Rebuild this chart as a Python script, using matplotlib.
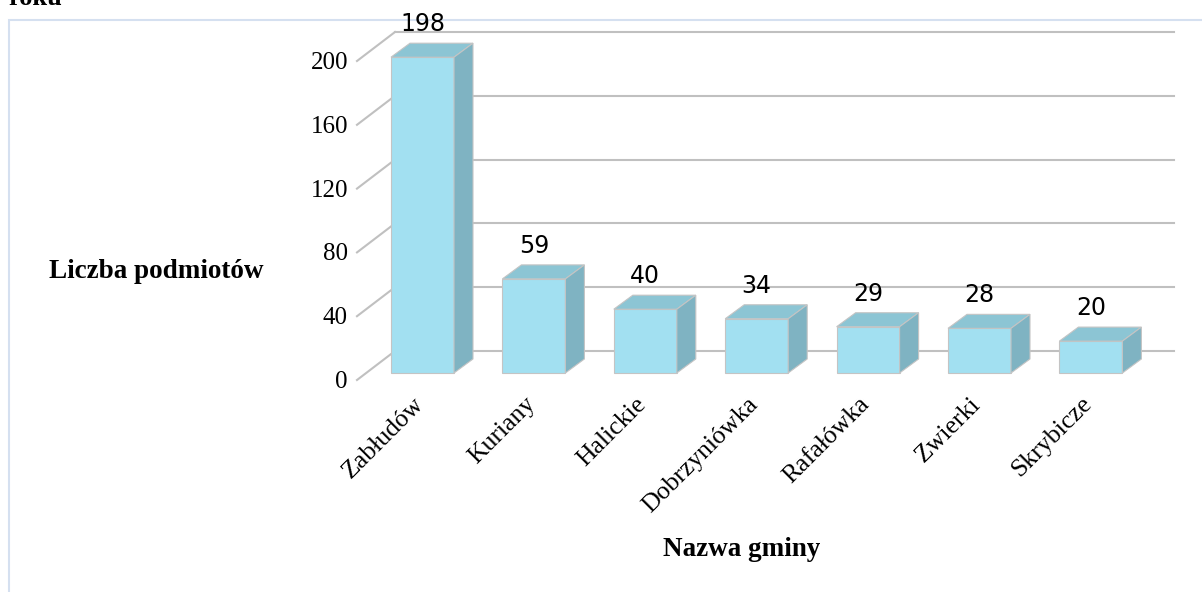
import matplotlib
matplotlib.use("Agg")
import matplotlib.pyplot as plt
from matplotlib.patches import Polygon, Rectangle

# dane
gminy = ["Zabłudów", "Kuriany", "Halickie", "Dobrzyniówka", "Rafałówka", "Zwierki", "Skrybicze"]
liczba = [198, 59, 40, 34, 29, 28, 20]
y_ticks = [0, 40, 80, 120, 160, 200]

W, H = 1202, 592
fig = plt.figure(figsize=(W / 100, H / 100), dpi=100)
ax = fig.add_axes([0, 0, 1, 1])
ax.patch.set_visible(False)

# skala: jedna kategoria = 111.4 px, jedna jednostka = 1.595 px
px_x = 111.4
px_y = 1.595
x0_px, y0_px = 422.5, 373
ax.set_xlim(-x0_px / px_x, (W - x0_px) / px_x)
ax.set_ylim((y0_px - H) / px_y, y0_px / px_y)
ax.axis("off")


def dx(p):
    return p / px_x


def dy(p):
    return p / px_y


serif = "Liberation Serif"
grid_c = "#c0c0c0"
front_c = "#a2e0f1"
side_c = "#7fb3c2"
top_c = "#8cc5d4"
edge_c = "#c4c4c4"

axis_x = -0.588          # przednia krawedz osi Y
back_x = axis_x + dx(38)  # tylna sciana
right_x = dx(1174 - x0_px)

# siatka na tylnej scianie + ukosne linie na bocznej
for v in y_ticks:
    ax.plot([back_x, right_x], [v + dy(22), v + dy(22)], color=grid_c, lw=1.5, zorder=1)
    ax.plot([axis_x, back_x], [v - dy(7), v + dy(22)], color=grid_c, lw=1.5, zorder=1)
    ax.text(axis_x - dx(9), v - dy(9), str(v), ha="right", va="center",
            fontsize=18, family=serif, color="#000000")

# slupki 3D
bw = 63 / px_x
ddx, ddy = dx(19), dy(14)
for i, v in enumerate(liczba):
    l, r = i - bw / 2, i + bw / 2
    ax.bar(i, v, width=bw, color=front_c, edgecolor=edge_c, linewidth=0.8, zorder=3)
    top = Polygon([(l, v), (r, v), (r + ddx, v + ddy), (l + ddx, v + ddy)],
                  closed=True, facecolor=top_c, edgecolor=edge_c, lw=0.8, zorder=3)
    side = Polygon([(r, 0), (r + ddx, ddy), (r + ddx, v + ddy), (r, v)],
                   closed=True, facecolor=side_c, edgecolor=edge_c, lw=0.8, zorder=3)
    ax.add_patch(top)
    ax.add_patch(side)
    ax.text(i, v + ddy + dy(12), str(v), ha="center", va="baseline",
            fontsize=17, family="DejaVu Sans", color="#000000", zorder=4)
    ax.text(i - dx(10), -dy(20), gminy[i], rotation=45, rotation_mode="anchor",
            ha="right", va="top", fontsize=18.5, family=serif, color="#000000")

fig.text(156 / W, 1 - 272 / H, "Liczba podmiotów", ha="center", va="center",
         fontsize=19.5, family=serif, fontweight="bold")
fig.text(742 / W, 1 - 549 / H, "Nazwa gminy", ha="center", va="center",
         fontsize=19.5, family=serif, fontweight="bold")
fig.text(8 / W, 1 - 5 / H, "roku", ha="left", va="baseline",
         fontsize=19, family=serif, fontweight="bold")

fig.patches.append(Rectangle((9 / W, -0.1), 1.2, 1.1 - 20 / H, transform=fig.transFigure,
                             fill=False, edgecolor="#d5e0f0", lw=1.5, zorder=-1))

fig.savefig("out.png", dpi=100)
